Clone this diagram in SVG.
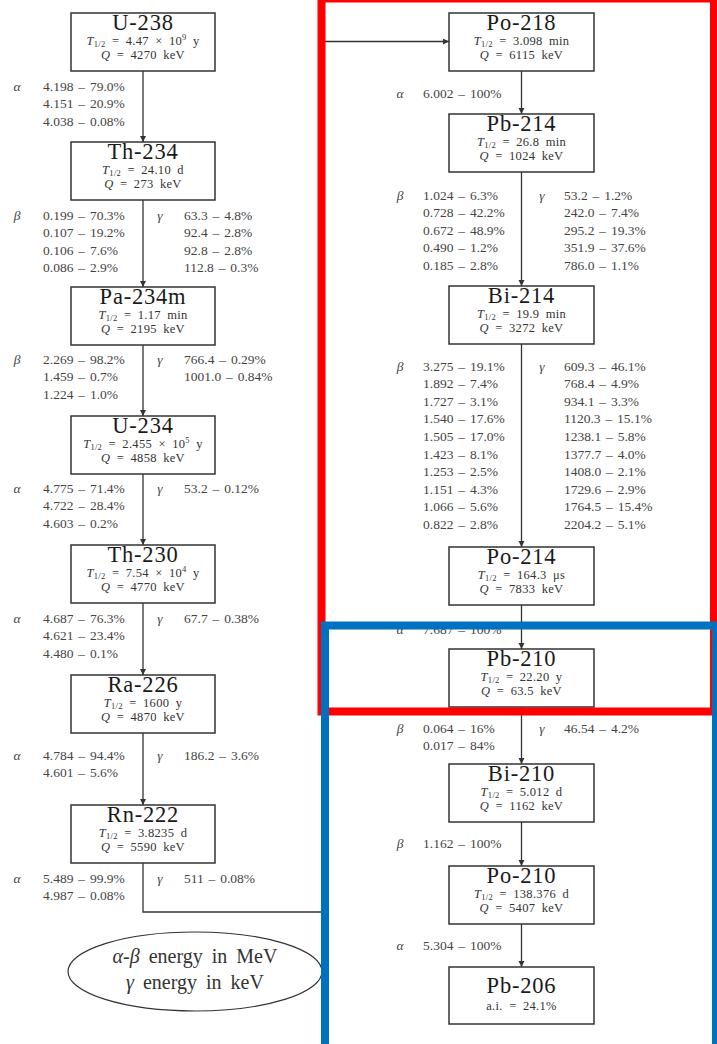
<svg xmlns="http://www.w3.org/2000/svg" width="717" height="1044" viewBox="0 0 717 1044">
<style>
.box{fill:#fff;stroke:#333;stroke-width:1.5}
.ttl{font-family:"Liberation Serif",serif;font-size:22.5px;letter-spacing:0.8px;text-anchor:middle;fill:#1a1a1a}
.sub{font-family:"Liberation Serif",serif;font-size:12.5px;letter-spacing:0.3px;word-spacing:3px;text-anchor:middle;fill:#333}
.lbl{font-family:"Liberation Serif",serif;font-size:13.5px;word-spacing:1.5px;fill:#444}
.gk{font-family:"Liberation Serif",serif;font-size:13.5px;font-style:italic;text-anchor:middle;fill:#444}
.it{font-style:italic}
.con{fill:none;stroke:#333;stroke-width:1.3}
.leg{font-family:"Liberation Serif",serif;font-size:20px;word-spacing:4px;text-anchor:middle;fill:#333}
</style>
<defs>
<marker id="ah" markerUnits="userSpaceOnUse" markerWidth="7" markerHeight="7" refX="6" refY="3" orient="auto">
<path d="M0,0 L6,3 L0,6 z" fill="#333"/>
</marker>
</defs>
<rect width="717" height="1044" fill="#fff"/>

<g id="connectors">
<line class="con" x1="143" y1="71" x2="143" y2="142" marker-end="url(#ah)"/>
<line class="con" x1="143" y1="200" x2="143" y2="287" marker-end="url(#ah)"/>
<line class="con" x1="143" y1="345" x2="143" y2="416" marker-end="url(#ah)"/>
<line class="con" x1="143" y1="474" x2="143" y2="545" marker-end="url(#ah)"/>
<line class="con" x1="143" y1="603" x2="143" y2="675" marker-end="url(#ah)"/>
<line class="con" x1="143" y1="733" x2="143" y2="805" marker-end="url(#ah)"/>
<path class="con" d="M143,863 V912 H324 V41.5 H449" marker-end="url(#ah)"/>
<line class="con" x1="521.5" y1="71" x2="521.5" y2="114" marker-end="url(#ah)"/>
<line class="con" x1="521.5" y1="172" x2="521.5" y2="286" marker-end="url(#ah)"/>
<line class="con" x1="521.5" y1="344" x2="521.5" y2="547" marker-end="url(#ah)"/>
<line class="con" x1="521.5" y1="605" x2="521.5" y2="649" marker-end="url(#ah)"/>
<line class="con" x1="521.5" y1="707" x2="521.5" y2="764" marker-end="url(#ah)"/>
<line class="con" x1="521.5" y1="822" x2="521.5" y2="866" marker-end="url(#ah)"/>
<line class="con" x1="521.5" y1="924" x2="521.5" y2="967" marker-end="url(#ah)"/>
</g>

<g id="U-238">
<rect class="box" x="71" y="13" width="144" height="58"/>
<text class="ttl" x="143" y="29.5">U-238</text>
<text class="sub" x="143" y="44.5"><tspan class="it">T</tspan><tspan font-size="8.5" dy="2.5">1/2</tspan><tspan dy="-2.5"> = 4.47 × 10</tspan><tspan font-size="8.5" dy="-5">9</tspan><tspan dy="5"> y</tspan></text>
<text class="sub" x="143" y="59"><tspan class="it">Q</tspan> = 4270 keV</text>
</g>
<g id="decay-U-238">
<text class="gk" x="17" y="90.5">α</text>
<text class="lbl" x="43" y="90.5">4.198 – 79.0%</text>
<text class="lbl" x="43" y="108">4.151 – 20.9%</text>
<text class="lbl" x="43" y="125.5">4.038 – 0.08%</text>
</g>

<g id="Th-234">
<rect class="box" x="71" y="142" width="144" height="58"/>
<text class="ttl" x="143" y="158.5">Th-234</text>
<text class="sub" x="143" y="173.5"><tspan class="it">T</tspan><tspan font-size="8.5" dy="2.5">1/2</tspan><tspan dy="-2.5"> = 24.10 d</tspan></text>
<text class="sub" x="143" y="188"><tspan class="it">Q</tspan> = 273 keV</text>
</g>
<g id="decay-Th-234">
<text class="gk" x="17" y="219.5">β</text>
<text class="lbl" x="43" y="219.5">0.199 – 70.3%</text>
<text class="lbl" x="43" y="237">0.107 – 19.2%</text>
<text class="lbl" x="43" y="254.5">0.106 – 7.6%</text>
<text class="lbl" x="43" y="272">0.086 – 2.9%</text>
<text class="gk" x="160" y="219.5">γ</text>
<text class="lbl" x="184" y="219.5">63.3 – 4.8%</text>
<text class="lbl" x="184" y="237">92.4 – 2.8%</text>
<text class="lbl" x="184" y="254.5">92.8 – 2.8%</text>
<text class="lbl" x="184" y="272">112.8 – 0.3%</text>
</g>

<g id="Pa-234m">
<rect class="box" x="71" y="287" width="144" height="58"/>
<text class="ttl" x="143" y="303.5">Pa-234m</text>
<text class="sub" x="143" y="318.5"><tspan class="it">T</tspan><tspan font-size="8.5" dy="2.5">1/2</tspan><tspan dy="-2.5"> = 1.17 min</tspan></text>
<text class="sub" x="143" y="333"><tspan class="it">Q</tspan> = 2195 keV</text>
</g>
<g id="decay-Pa-234m">
<text class="gk" x="17" y="363.5">β</text>
<text class="lbl" x="43" y="363.5">2.269 – 98.2%</text>
<text class="lbl" x="43" y="381">1.459 – 0.7%</text>
<text class="lbl" x="43" y="398.5">1.224 – 1.0%</text>
<text class="gk" x="160" y="363.5">γ</text>
<text class="lbl" x="184" y="363.5">766.4 – 0.29%</text>
<text class="lbl" x="184" y="381">1001.0 – 0.84%</text>
</g>

<g id="U-234">
<rect class="box" x="71" y="416" width="144" height="58"/>
<text class="ttl" x="143" y="432.5">U-234</text>
<text class="sub" x="143" y="447.5"><tspan class="it">T</tspan><tspan font-size="8.5" dy="2.5">1/2</tspan><tspan dy="-2.5"> = 2.455 × 10</tspan><tspan font-size="8.5" dy="-5">5</tspan><tspan dy="5"> y</tspan></text>
<text class="sub" x="143" y="462"><tspan class="it">Q</tspan> = 4858 keV</text>
</g>
<g id="decay-U-234">
<text class="gk" x="17" y="492.5">α</text>
<text class="lbl" x="43" y="492.5">4.775 – 71.4%</text>
<text class="lbl" x="43" y="510">4.722 – 28.4%</text>
<text class="lbl" x="43" y="527.5">4.603 – 0.2%</text>
<text class="gk" x="160" y="492.5">γ</text>
<text class="lbl" x="184" y="492.5">53.2 – 0.12%</text>
</g>

<g id="Th-230">
<rect class="box" x="71" y="545" width="144" height="58"/>
<text class="ttl" x="143" y="561.5">Th-230</text>
<text class="sub" x="143" y="576.5"><tspan class="it">T</tspan><tspan font-size="8.5" dy="2.5">1/2</tspan><tspan dy="-2.5"> = 7.54 × 10</tspan><tspan font-size="8.5" dy="-5">4</tspan><tspan dy="5"> y</tspan></text>
<text class="sub" x="143" y="591"><tspan class="it">Q</tspan> = 4770 keV</text>
</g>
<g id="decay-Th-230">
<text class="gk" x="17" y="622.5">α</text>
<text class="lbl" x="43" y="622.5">4.687 – 76.3%</text>
<text class="lbl" x="43" y="640">4.621 – 23.4%</text>
<text class="lbl" x="43" y="657.5">4.480 – 0.1%</text>
<text class="gk" x="160" y="622.5">γ</text>
<text class="lbl" x="184" y="622.5">67.7 – 0.38%</text>
</g>

<g id="Ra-226">
<rect class="box" x="71" y="675" width="144" height="58"/>
<text class="ttl" x="143" y="691.5">Ra-226</text>
<text class="sub" x="143" y="706.5"><tspan class="it">T</tspan><tspan font-size="8.5" dy="2.5">1/2</tspan><tspan dy="-2.5"> = 1600 y</tspan></text>
<text class="sub" x="143" y="721"><tspan class="it">Q</tspan> = 4870 keV</text>
</g>
<g id="decay-Ra-226">
<text class="gk" x="17" y="759.5">α</text>
<text class="lbl" x="43" y="759.5">4.784 – 94.4%</text>
<text class="lbl" x="43" y="777">4.601 – 5.6%</text>
<text class="gk" x="160" y="759.5">γ</text>
<text class="lbl" x="184" y="759.5">186.2 – 3.6%</text>
</g>

<g id="Rn-222">
<rect class="box" x="71" y="805" width="144" height="58"/>
<text class="ttl" x="143" y="821.5">Rn-222</text>
<text class="sub" x="143" y="836.5"><tspan class="it">T</tspan><tspan font-size="8.5" dy="2.5">1/2</tspan><tspan dy="-2.5"> = 3.8235 d</tspan></text>
<text class="sub" x="143" y="851"><tspan class="it">Q</tspan> = 5590 keV</text>
</g>
<g id="decay-Rn-222">
<text class="gk" x="17" y="882.5">α</text>
<text class="lbl" x="43" y="882.5">5.489 – 99.9%</text>
<text class="lbl" x="43" y="900">4.987 – 0.08%</text>
<text class="gk" x="160" y="882.5">γ</text>
<text class="lbl" x="184" y="882.5">511 – 0.08%</text>
</g>

<g id="Po-218">
<rect class="box" x="449" y="13" width="145" height="58"/>
<text class="ttl" x="521.5" y="29.5">Po-218</text>
<text class="sub" x="521.5" y="44.5"><tspan class="it">T</tspan><tspan font-size="8.5" dy="2.5">1/2</tspan><tspan dy="-2.5"> = 3.098 min</tspan></text>
<text class="sub" x="521.5" y="59"><tspan class="it">Q</tspan> = 6115 keV</text>
</g>
<g id="decay-Po-218">
<text class="gk" x="400" y="97.5">α</text>
<text class="lbl" x="423" y="97.5">6.002 – 100%</text>
</g>

<g id="Pb-214">
<rect class="box" x="449" y="114" width="145" height="58"/>
<text class="ttl" x="521.5" y="130.5">Pb-214</text>
<text class="sub" x="521.5" y="145.5"><tspan class="it">T</tspan><tspan font-size="8.5" dy="2.5">1/2</tspan><tspan dy="-2.5"> = 26.8 min</tspan></text>
<text class="sub" x="521.5" y="160"><tspan class="it">Q</tspan> = 1024 keV</text>
</g>
<g id="decay-Pb-214">
<text class="gk" x="400" y="199.5">β</text>
<text class="lbl" x="423" y="199.5">1.024 – 6.3%</text>
<text class="lbl" x="423" y="217">0.728 – 42.2%</text>
<text class="lbl" x="423" y="234.5">0.672 – 48.9%</text>
<text class="lbl" x="423" y="252">0.490 – 1.2%</text>
<text class="lbl" x="423" y="269.5">0.185 – 2.8%</text>
<text class="gk" x="542" y="199.5">γ</text>
<text class="lbl" x="564" y="199.5">53.2 – 1.2%</text>
<text class="lbl" x="564" y="217">242.0 – 7.4%</text>
<text class="lbl" x="564" y="234.5">295.2 – 19.3%</text>
<text class="lbl" x="564" y="252">351.9 – 37.6%</text>
<text class="lbl" x="564" y="269.5">786.0 – 1.1%</text>
</g>

<g id="Bi-214">
<rect class="box" x="449" y="286" width="145" height="58"/>
<text class="ttl" x="521.5" y="302.5">Bi-214</text>
<text class="sub" x="521.5" y="317.5"><tspan class="it">T</tspan><tspan font-size="8.5" dy="2.5">1/2</tspan><tspan dy="-2.5"> = 19.9 min</tspan></text>
<text class="sub" x="521.5" y="332"><tspan class="it">Q</tspan> = 3272 keV</text>
</g>
<g id="decay-Bi-214">
<text class="gk" x="400" y="370.5">β</text>
<text class="lbl" x="423" y="370.5">3.275 – 19.1%</text>
<text class="lbl" x="423" y="388.1">1.892 – 7.4%</text>
<text class="lbl" x="423" y="405.7">1.727 – 3.1%</text>
<text class="lbl" x="423" y="423.3">1.540 – 17.6%</text>
<text class="lbl" x="423" y="440.9">1.505 – 17.0%</text>
<text class="lbl" x="423" y="458.5">1.423 – 8.1%</text>
<text class="lbl" x="423" y="476.1">1.253 – 2.5%</text>
<text class="lbl" x="423" y="493.7">1.151 – 4.3%</text>
<text class="lbl" x="423" y="511.3">1.066 – 5.6%</text>
<text class="lbl" x="423" y="528.9">0.822 – 2.8%</text>
<text class="gk" x="542" y="370.5">γ</text>
<text class="lbl" x="564" y="370.5">609.3 – 46.1%</text>
<text class="lbl" x="564" y="388.1">768.4 – 4.9%</text>
<text class="lbl" x="564" y="405.7">934.1 – 3.3%</text>
<text class="lbl" x="564" y="423.3">1120.3 – 15.1%</text>
<text class="lbl" x="564" y="440.9">1238.1 – 5.8%</text>
<text class="lbl" x="564" y="458.5">1377.7 – 4.0%</text>
<text class="lbl" x="564" y="476.1">1408.0 – 2.1%</text>
<text class="lbl" x="564" y="493.7">1729.6 – 2.9%</text>
<text class="lbl" x="564" y="511.3">1764.5 – 15.4%</text>
<text class="lbl" x="564" y="528.9">2204.2 – 5.1%</text>
</g>

<g id="Po-214">
<rect class="box" x="449" y="547" width="145" height="58"/>
<text class="ttl" x="521.5" y="563.5">Po-214</text>
<text class="sub" x="521.5" y="578.5"><tspan class="it">T</tspan><tspan font-size="8.5" dy="2.5">1/2</tspan><tspan dy="-2.5"> = 164.3 μs</tspan></text>
<text class="sub" x="521.5" y="593"><tspan class="it">Q</tspan> = 7833 keV</text>
</g>
<g id="decay-Po-214">
<text class="gk" x="400" y="634">α</text>
<text class="lbl" x="423" y="634">7.687 – 100%</text>
</g>

<g id="Pb-210">
<rect class="box" x="449" y="649" width="145" height="58"/>
<text class="ttl" x="521.5" y="665.5">Pb-210</text>
<text class="sub" x="521.5" y="680.5"><tspan class="it">T</tspan><tspan font-size="8.5" dy="2.5">1/2</tspan><tspan dy="-2.5"> = 22.20 y</tspan></text>
<text class="sub" x="521.5" y="695"><tspan class="it">Q</tspan> = 63.5 keV</text>
</g>
<g id="decay-Pb-210">
<text class="gk" x="400" y="732.5">β</text>
<text class="lbl" x="423" y="732.5">0.064 – 16%</text>
<text class="lbl" x="423" y="750">0.017 – 84%</text>
<text class="gk" x="542" y="732.5">γ</text>
<text class="lbl" x="564" y="732.5">46.54 – 4.2%</text>
</g>

<g id="Bi-210">
<rect class="box" x="449" y="764" width="145" height="58"/>
<text class="ttl" x="521.5" y="780.5">Bi-210</text>
<text class="sub" x="521.5" y="795.5"><tspan class="it">T</tspan><tspan font-size="8.5" dy="2.5">1/2</tspan><tspan dy="-2.5"> = 5.012 d</tspan></text>
<text class="sub" x="521.5" y="810"><tspan class="it">Q</tspan> = 1162 keV</text>
</g>
<g id="decay-Bi-210">
<text class="gk" x="400" y="847.5">β</text>
<text class="lbl" x="423" y="847.5">1.162 – 100%</text>
</g>

<g id="Po-210">
<rect class="box" x="449" y="866" width="145" height="58"/>
<text class="ttl" x="521.5" y="882.5">Po-210</text>
<text class="sub" x="521.5" y="897.5"><tspan class="it">T</tspan><tspan font-size="8.5" dy="2.5">1/2</tspan><tspan dy="-2.5"> = 138.376 d</tspan></text>
<text class="sub" x="521.5" y="912"><tspan class="it">Q</tspan> = 5407 keV</text>
</g>
<g id="decay-Po-210">
<text class="gk" x="400" y="949.5">α</text>
<text class="lbl" x="423" y="949.5">5.304 – 100%</text>
</g>

<g id="Pb-206">
<rect class="box" x="449" y="967" width="145" height="57"/>
<text class="ttl" x="521.5" y="993">Pb-206</text>
<text class="sub" x="521.5" y="1010">a.i. = 24.1%</text>
</g>

<g id="legend">
<ellipse cx="195" cy="971.5" rx="127" ry="39.5" fill="none" stroke="#333" stroke-width="1.2"/>
<text class="leg" x="195" y="963"><tspan class="it">α</tspan>-<tspan class="it">β</tspan> energy in MeV</text>
<text class="leg" x="195" y="989"><tspan class="it">γ</tspan> energy in keV</text>
</g>

<g id="frames">
<rect x="321.5" y="-1.5" width="392.5" height="713" fill="none" stroke="#ff0000" stroke-width="8"/>
<rect x="325" y="625.5" width="391" height="430" fill="none" stroke="#0070c0" stroke-width="8"/>
</g>
</svg>
